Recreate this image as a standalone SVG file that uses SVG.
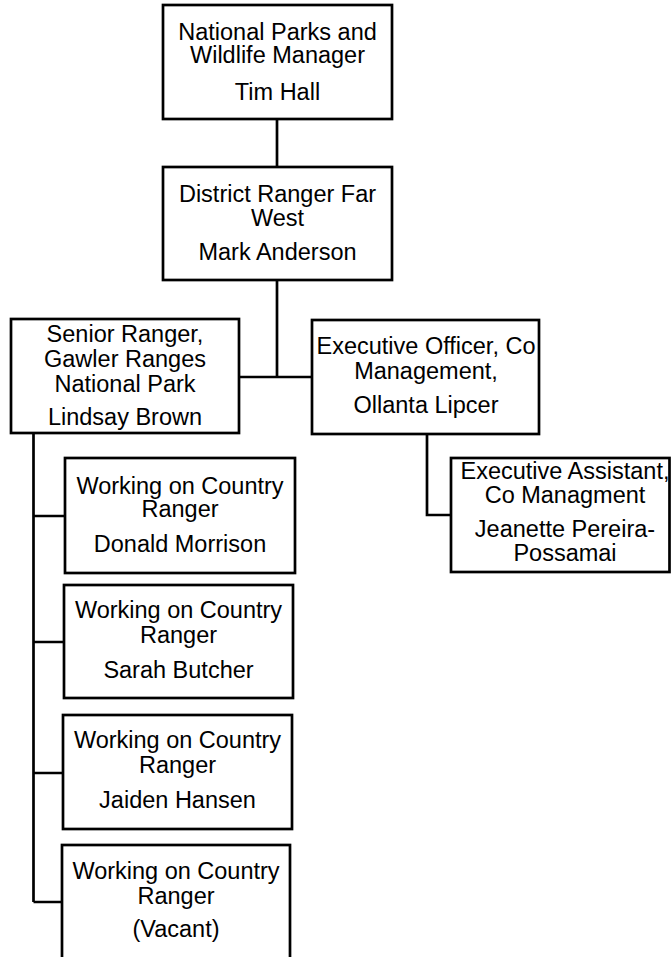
<svg xmlns="http://www.w3.org/2000/svg" width="671" height="957" viewBox="0 0 671 957">
<style>
.box{fill:#fff;stroke:#000;stroke-width:2.7}
.ln{fill:none;stroke:#000;stroke-width:2.7}
text{font-family:"Liberation Sans",Arial,sans-serif;font-size:23.5px;fill:#000;text-anchor:middle}
</style>
<rect width="671" height="957" fill="#fff"/>
<g id="connectors">
<path class="ln" d="M277,119 V167"/>
<path class="ln" d="M277,280 V377 M239,377 H312"/>
<path class="ln" d="M427,434 V515 H451"/>
<path class="ln" d="M33.5,433 V902 M33.5,516 H65 M33.5,642 H64 M33.5,773 H63 M33.5,902 H62"/>
</g>
<g id="n1"><rect class="box" x="163" y="5" width="229" height="114"/>
<text x="277.5" y="40">National Parks and</text><text x="277.5" y="63">Wildlife Manager</text><text x="277.5" y="100">Tim Hall</text></g>
<g id="n2"><rect class="box" x="163" y="167" width="229" height="113"/>
<text x="277.5" y="202">District Ranger Far</text><text x="277.5" y="226">West</text><text x="277.5" y="260">Mark Anderson</text></g>
<g id="n3"><rect class="box" x="11" y="319" width="228" height="114"/>
<text x="125" y="342">Senior Ranger,</text><text x="125" y="367">Gawler Ranges</text><text x="125" y="392">National Park</text><text x="125" y="425">Lindsay Brown</text></g>
<g id="n4"><rect class="box" x="312" y="320" width="227" height="114"/>
<text x="426" y="354">Executive Officer, Co</text><text x="426" y="379">Management,</text><text x="426" y="413">Ollanta Lipcer</text></g>
<g id="n5"><rect class="box" x="451" y="458" width="218.5" height="114"/>
<text x="565" y="479">Executive Assistant,</text><text x="565" y="503">Co Managment</text><text x="565" y="537">Jeanette Pereira-</text><text x="565" y="561">Possamai</text></g>
<g id="n6"><rect class="box" x="65" y="458" width="230" height="115"/>
<text x="180" y="494">Working on Country</text><text x="180" y="517">Ranger</text><text x="180" y="552">Donald Morrison</text></g>
<g id="n7"><rect class="box" x="64" y="585" width="229" height="113"/>
<text x="178.5" y="618">Working on Country</text><text x="178.5" y="643">Ranger</text><text x="178.5" y="678">Sarah Butcher</text></g>
<g id="n8"><rect class="box" x="63" y="715" width="229" height="114"/>
<text x="177.5" y="748">Working on Country</text><text x="177.5" y="773">Ranger</text><text x="177.5" y="808">Jaiden Hansen</text></g>
<g id="n9"><rect class="box" x="62" y="845" width="228" height="116"/>
<text x="176" y="879">Working on Country</text><text x="176" y="904">Ranger</text><text x="176" y="937">(Vacant)</text></g>
</svg>
